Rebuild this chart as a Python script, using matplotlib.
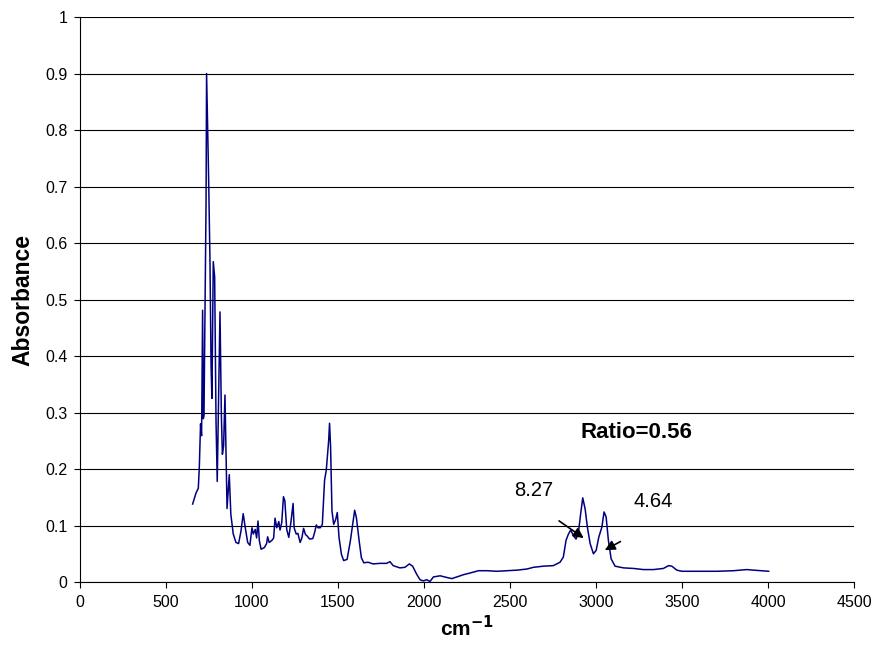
import matplotlib
matplotlib.use('Agg')
import matplotlib.pyplot as plt

plt.rcParams['font.family'] = ['Liberation Sans', 'DejaVu Sans']

# spectrum (wavenumber, absorbance)
wavenumber = [655, 674, 688, 694, 701, 707, 713, 717, 721, 727, 733, 736, 742, 748, 756,
              762, 767, 775, 783, 791, 798, 806, 814, 822, 828, 835, 843, 849, 855, 868,
              877, 891, 907, 922, 936, 949, 961, 975, 988, 1000, 1008, 1019, 1027, 1035,
              1043, 1053, 1072, 1085, 1091, 1100, 1117, 1126, 1134, 1144, 1156, 1163, 1173,
              1183, 1191, 1202, 1214, 1226, 1239, 1245, 1257, 1267, 1280, 1290, 1300, 1311,
              1319, 1335, 1354, 1366, 1374, 1384, 1397, 1409, 1422, 1432, 1438, 1446, 1451,
              1457, 1465, 1475, 1487, 1496, 1506, 1520, 1533, 1553, 1572, 1588, 1597, 1607,
              1623, 1636, 1650, 1675, 1704, 1743, 1782, 1802, 1821, 1860, 1889, 1915, 1934,
              1957, 1977, 1996, 2016, 2035, 2055, 2094, 2133, 2162, 2191, 2230, 2269, 2317,
              2366, 2424, 2483, 2541, 2599, 2636, 2694, 2752, 2791, 2810, 2826, 2840, 2853,
              2869, 2884, 2898, 2911, 2923, 2937, 2950, 2966, 2985, 3001, 3016, 3034, 3047,
              3059, 3072, 3088, 3111, 3160, 3218, 3276, 3334, 3392, 3422, 3441, 3470, 3499,
              3606, 3703, 3800, 3877, 3916, 4004]
absorbance = [0.138, 0.157, 0.166, 0.205, 0.28, 0.259, 0.481, 0.289, 0.295, 0.493, 0.672,
              0.9, 0.804, 0.714, 0.564, 0.385, 0.325, 0.567, 0.54, 0.283, 0.178, 0.325,
              0.478, 0.295, 0.226, 0.241, 0.331, 0.235, 0.13, 0.19, 0.12, 0.085, 0.07,
              0.068, 0.09, 0.121, 0.096, 0.07, 0.065, 0.096, 0.085, 0.093, 0.078, 0.108,
              0.073, 0.058, 0.061, 0.068, 0.08, 0.07, 0.074, 0.078, 0.113, 0.096, 0.107,
              0.092, 0.105, 0.151, 0.144, 0.093, 0.079, 0.105, 0.139, 0.096, 0.085, 0.086,
              0.07, 0.078, 0.095, 0.084, 0.082, 0.076, 0.077, 0.09, 0.101, 0.096, 0.096,
              0.102, 0.18, 0.198, 0.221, 0.251, 0.281, 0.239, 0.126, 0.102, 0.111, 0.123,
              0.079, 0.049, 0.038, 0.04, 0.073, 0.108, 0.127, 0.114, 0.073, 0.043, 0.034,
              0.035, 0.032, 0.033, 0.033, 0.036, 0.029, 0.025, 0.026, 0.032, 0.028, 0.014,
              0.004, 0.002, 0.004, 0.001, 0.009, 0.011, 0.008, 0.006, 0.009, 0.013, 0.016,
              0.02, 0.02, 0.019, 0.02, 0.021, 0.023, 0.026, 0.028, 0.029, 0.035, 0.044,
              0.074, 0.085, 0.092, 0.082, 0.076, 0.088, 0.121, 0.149, 0.129, 0.097, 0.068,
              0.05, 0.056, 0.079, 0.097, 0.124, 0.115, 0.074, 0.041, 0.028, 0.025, 0.024,
              0.022, 0.022, 0.024, 0.029, 0.028, 0.021, 0.019, 0.019, 0.019, 0.02, 0.022,
              0.021, 0.019]

xticks = [0, 500, 1000, 1500, 2000, 2500, 3000, 3500, 4000, 4500]
yticks = [0, 0.1, 0.2, 0.3, 0.4, 0.5, 0.6, 0.7, 0.8, 0.9, 1]
ytick_labels = ['0', '0.1', '0.2', '0.3', '0.4', '0.5', '0.6', '0.7', '0.8', '0.9', '1']

fig = plt.figure(figsize=(8.75, 6.5), dpi=100)
ax = fig.add_axes([0.0914, 0.1046, 0.8846, 0.8692])

ax.plot(wavenumber, absorbance, color='#000080', lw=1.1)

ax.set_xlim(0, 4500)
ax.set_ylim(0, 1)
ax.set_xticks(xticks)
ax.set_yticks(yticks)
ax.set_yticklabels(ytick_labels)
ax.tick_params(labelsize=11.5, direction='out', length=4, color='black', pad=5)
ax.yaxis.grid(True, color='black', lw=0.8)
ax.set_axisbelow(True)
for s in ['top', 'right']:
    ax.spines[s].set_visible(False)

ax.set_xlabel('cm$^{\\mathbf{-1}}$', fontsize=15, fontweight='bold', labelpad=4)
ax.set_ylabel('Absorbance', fontsize=16.5, fontweight='bold', labelpad=8)

ax.text(3233, 0.265, 'Ratio=0.56', fontsize=16, fontweight='bold', ha='center', va='center')
ax.text(2640, 0.162, '8.27', fontsize=14.5, ha='center', va='center')
ax.text(3331, 0.142, '4.64', fontsize=14.5, ha='center', va='center')

arrow = dict(arrowstyle='-|>', color='black', lw=1.2, mutation_scale=15)
ax.annotate('', xy=(2942, 0.075), xytext=(2772, 0.111), arrowprops=arrow)
ax.annotate('', xy=(3037, 0.054), xytext=(3156, 0.074), arrowprops=arrow)

fig.savefig('out.png', dpi=100)
